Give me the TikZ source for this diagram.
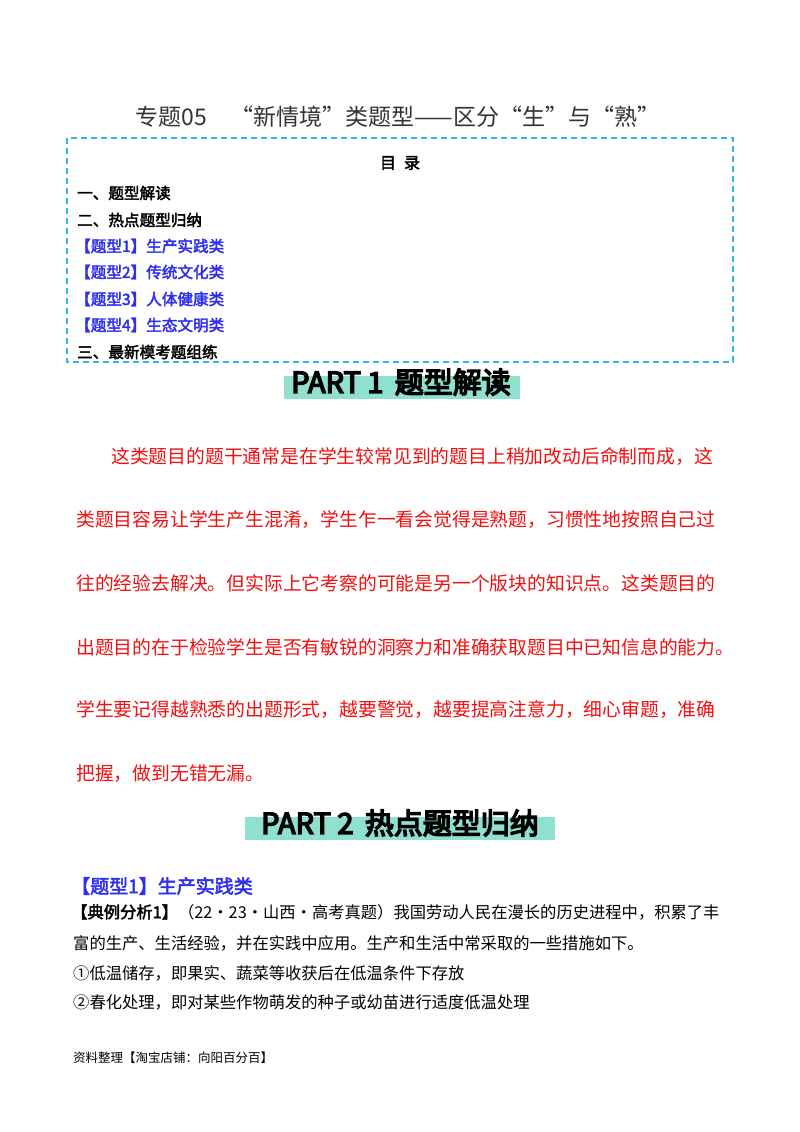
\documentclass[tikz,border=0pt]{standalone}
\usepackage{fontspec}
\setmainfont{Noto Sans CJK SC}[AutoFakeBold=2.5]
\newfontfamily\heavyfont{Noto Sans CJK SC}[FakeBold=5]
\definecolor{boxcyan}{HTML}{33B5E5}
\definecolor{hl}{HTML}{8FE0CF}
\definecolor{tblue}{HTML}{2F2FF0}
\definecolor{tred}{HTML}{F01010}
\begin{document}
\begin{tikzpicture}[x=1pt,y=-1pt,
  toc/.style={anchor=west,inner sep=0pt,font=\fontsize{15.6}{17}\selectfont\bfseries},
  tocb/.style={toc,text=tblue},
  para/.style={anchor=west,inner sep=0pt,text=tred,font=\fontsize{18.8}{20}\selectfont},
  body/.style={anchor=west,inner sep=0pt,font=\fontsize{16.3}{18}\selectfont},
  part/.style={inner sep=0pt,font=\fontsize{29}{31}\selectfont\heavyfont}]
\useasboundingbox[fill=white] (0,0) rectangle (800,1132);
\node[inner sep=0pt,font=\fontsize{23}{26}\selectfont,text=black!80] (title) at (398,117) {专题05\quad “新情境”类题型——区分“生”与“熟”};
\draw[boxcyan,line width=1.2pt,dash pattern=on 6pt off 4pt] (67,138) rectangle (733,362);
\node[inner sep=0pt,font=\fontsize{16}{18}\selectfont\bfseries] (mulu) at (400,163) {目\hspace{0.5em}录};
\node[toc] (t1) at (77,193) {一、题型解读};
\node[toc] (t2) at (77,220) {二、热点题型归纳};
\node[tocb] (t3) at (75,246) {【题型1】生产实践类};
\node[tocb] (t4) at (75,272) {【题型2】传统文化类};
\node[tocb] (t5) at (75,299) {【题型3】人体健康类};
\node[tocb] (t6) at (75,325) {【题型4】生态文明类};
\node[toc] (t7) at (77,352) {三、最新模考题组练};
\fill[hl] (284,376) rectangle (520,399);
\node[part] (p1) at (401,382) {PART 1\, 题型解读};
\node[para] (r1) at (111,456) {这类题目的题干通常是在学生较常见到的题目上稍加改动后命制而成，这};
\node[para] (r2) at (76,520) {类题目容易让学生产生混淆，学生乍一看会觉得是熟题，习惯性地按照自己过};
\node[para] (r3) at (76,583) {往的经验去解决。但实际上它考察的可能是另一个版块的知识点。这类题目的};
\node[para] (r4) at (76,647) {出题目的在于检验学生是否有敏锐的洞察力和准确获取题目中已知信息的能力。};
\node[para] (r5) at (76,710) {学生要记得越熟悉的出题形式，越要警觉，越要提高注意力，细心审题，准确};
\node[para] (r6) at (76,774) {把握，做到无错无漏。};
\fill[hl] (245,817) rectangle (555,840);
\node[part] (p2) at (400,823) {PART 2\, 热点题型归纳};
\node[anchor=west,inner sep=0pt,text=tblue,font=\fontsize{19}{21}\selectfont\bfseries] (h1) at (71,886) {【题型1】生产实践类};
\node[body] (b1) at (71,912) {\textbf{【典例分析1】}（22·23·山西·高考真题）我国劳动人民在漫长的历史进程中，积累了丰};
\node[body] (b2) at (73,943) {富的生产、生活经验，并在实践中应用。生产和生活中常采取的一些措施如下。};
\node[body] (b3) at (73,973) {①低温储存，即果实、蔬菜等收获后在低温条件下存放};
\node[body] (b4) at (73,1002) {②春化处理，即对某些作物萌发的种子或幼苗进行适度低温处理};
\node[anchor=west,inner sep=0pt,font=\fontsize{12.5}{14}\selectfont] (foot) at (73,1058) {资料整理【淘宝店铺：向阳百分百】};
\end{tikzpicture}
\end{document}
